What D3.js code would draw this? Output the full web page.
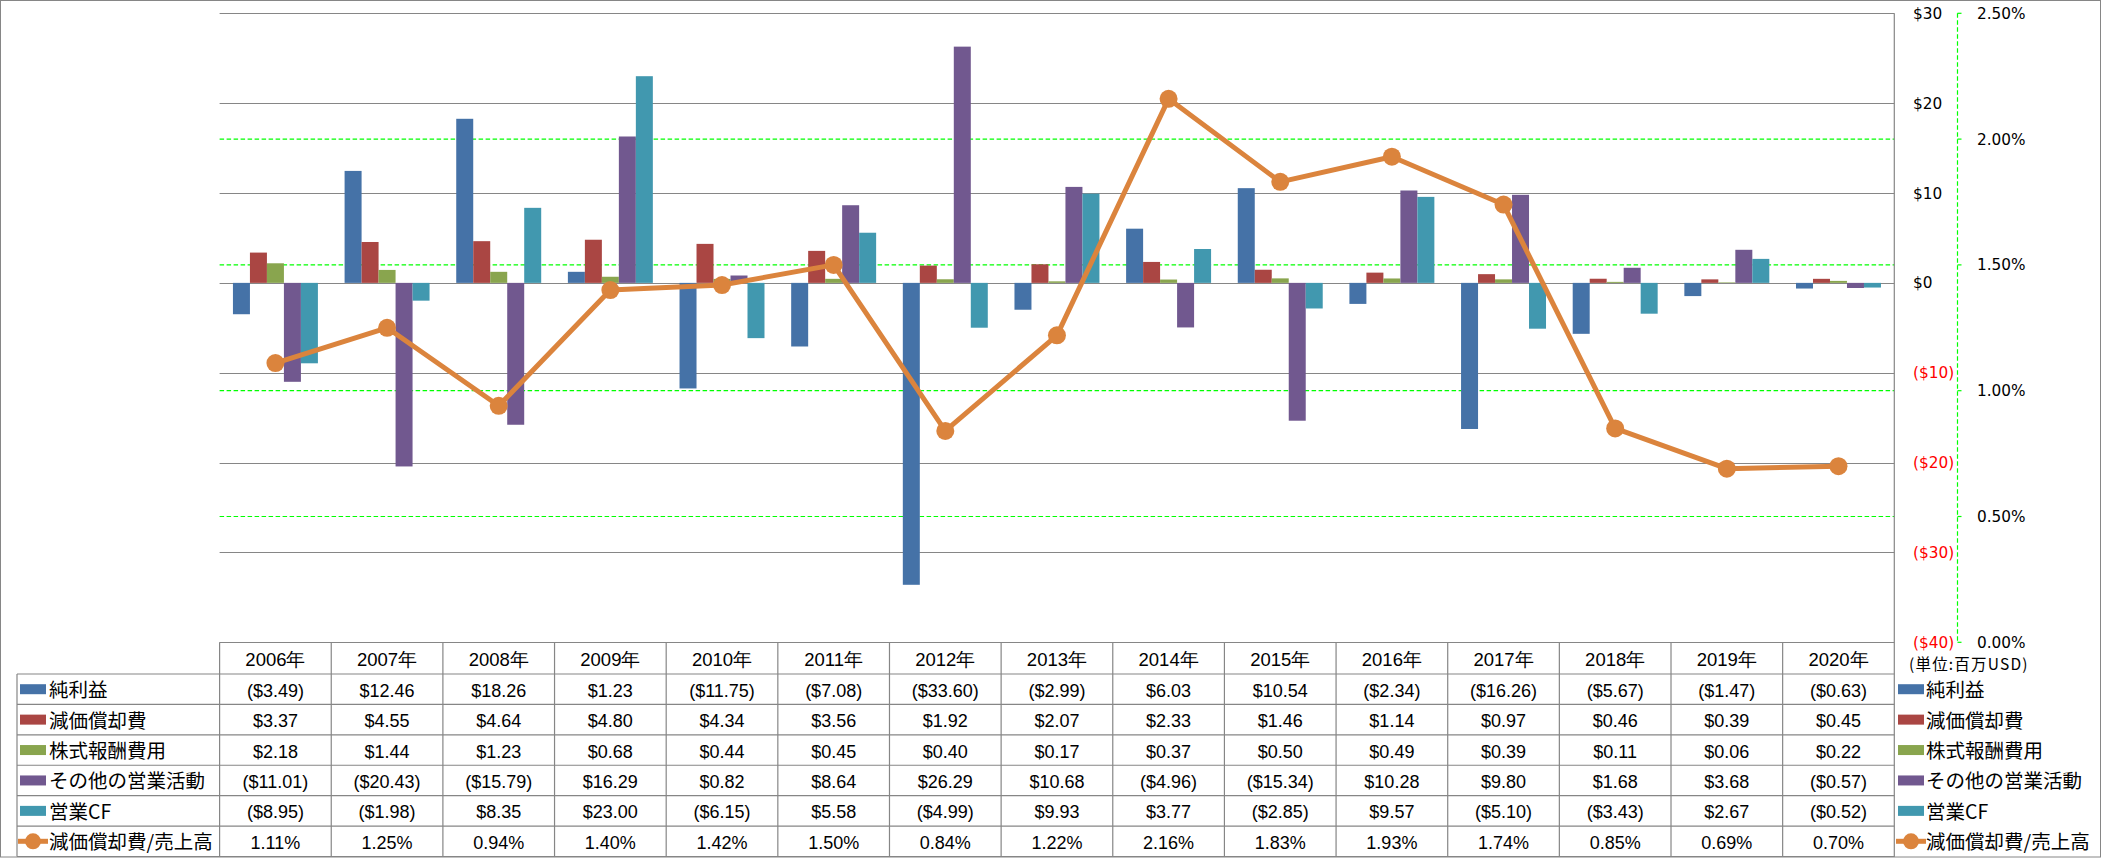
<!DOCTYPE html>
<html>
<head>
<meta charset="utf-8">
<script src="https://cdn.jsdelivr.net/npm/d3@7"></script>
<style>
  html, body { margin: 0; padding: 0; background: #fff; }
  svg { display: block; }
</style>
</head>
<body>
<svg id="chart" width="2101" height="858"></svg>
<script>
// ---------- data ----------
const years = ["2006年","2007年","2008年","2009年","2010年","2011年","2012年","2013年","2014年","2015年","2016年","2017年","2018年","2019年","2020年"];
const seriesNames = ["純利益","減価償却費","株式報酬費用","その他の営業活動","営業CF"];
const netIncome   = [-3.49, 12.46, 18.26, 1.23, -11.75, -7.08, -33.60, -2.99, 6.03, 10.54, -2.34, -16.26, -5.67, -1.47, -0.63];
const depreciation= [3.37, 4.55, 4.64, 4.80, 4.34, 3.56, 1.92, 2.07, 2.33, 1.46, 1.14, 0.97, 0.46, 0.39, 0.45];
const stockComp   = [2.18, 1.44, 1.23, 0.68, 0.44, 0.45, 0.40, 0.17, 0.37, 0.50, 0.49, 0.39, 0.11, 0.06, 0.22];
const otherOps    = [-11.01, -20.43, -15.79, 16.29, 0.82, 8.64, 26.29, 10.68, -4.96, -15.34, 10.28, 9.80, 1.68, 3.68, -0.57];
const operatingCF = [-8.95, -1.98, 8.35, 23.00, -6.15, 5.58, -4.99, 9.93, 3.77, -2.85, 9.57, -5.10, -3.43, 2.67, -0.52];
const lineName = "減価償却費/売上高";
const ratio       = [1.11, 1.25, 0.94, 1.40, 1.42, 1.50, 0.84, 1.22, 2.16, 1.83, 1.93, 1.74, 0.85, 0.69, 0.70];
const leftTicks  = [-40, -30, -20, -10, 0, 10, 20, 30];
const rightTicks = [0, 0.5, 1.0, 1.5, 2.0, 2.5];
const unitLabel = "(単位:百万USD)";

const barSeries = [netIncome, depreciation, stockComp, otherOps, operatingCF];
const colors = ["#4572A7", "#AA4643", "#89A54E", "#71588F", "#4198AF"];
const lineColor = "#DB843D";

// ---------- layout ----------
const svg = d3.select("#chart");
const W = 2101, H = 858;
const plotL = 219.6, plotR = 1894.3, plotT = 13.3, plotB = 642.3;
const gridColor = "#868686";
const numFont = "'Liberation Sans', Arial, sans-serif";
const jpFont = "'Noto Sans CJK JP', 'Liberation Sans', sans-serif";
const axisFont = "'DejaVu Sans', Verdana, sans-serif";

// outer border
svg.append("rect").attr("x", 0.5).attr("y", 0.5).attr("width", W - 1).attr("height", H - 1.5)
  .attr("fill", "none").attr("stroke", gridColor).attr("stroke-width", 1);

const y = d3.scaleLinear().domain([-40, 30]).range([plotB, plotT]);
const yP = d3.scaleLinear().domain([0, 2.5]).range([plotB, plotT]);
const col = d3.scaleBand().domain(years).range([plotL, plotR]).padding(0);
const x0 = d3.scaleBand().domain(years).range([plotL, plotR]).paddingInner(0.239).paddingOuter(0.1195);
const x1 = d3.scaleBand().domain(d3.range(seriesNames.length)).range([0, x0.bandwidth()]).padding(0);

// green dashed gridlines (right axis)
svg.append("g").selectAll("line").data(rightTicks.filter(t => t > 0 && t < 2.5)).join("line")
  .attr("x1", plotL).attr("x2", plotR)
  .attr("y1", d => yP(d)).attr("y2", d => yP(d))
  .attr("stroke", "#00FF00").attr("stroke-width", 1.2).attr("stroke-dasharray", "4.5,2.5");

// gray gridlines (left axis)
svg.append("g").selectAll("line").data(leftTicks).join("line")
  .attr("x1", plotL).attr("x2", plotR)
  .attr("y1", d => Math.round(y(d)) + 0.5).attr("y2", d => Math.round(y(d)) + 0.5)
  .attr("stroke", gridColor).attr("stroke-width", 1.2);

// plot right border
svg.append("line").attr("x1", plotR).attr("x2", plotR).attr("y1", plotT).attr("y2", H - 1)
  .attr("stroke", gridColor).attr("stroke-width", 1.2);

// bars
const gBars = svg.append("g");
years.forEach((yr, i) => {
  barSeries.forEach((s, k) => {
    const v = s[i];
    gBars.append("rect")
      .attr("x", x0(yr) + x1(k))
      .attr("width", x1.bandwidth())
      .attr("y", Math.min(y(v), y(0)))
      .attr("height", Math.abs(y(v) - y(0)))
      .attr("fill", colors[k]);
  });
});

// line series
const cx = d => col(d) + col.bandwidth() / 2;
const linePts = years.map((yr, i) => [cx(yr), yP(ratio[i])]);
svg.append("path").attr("d", d3.line()(linePts))
  .attr("fill", "none").attr("stroke", lineColor).attr("stroke-width", 5).attr("stroke-linejoin", "round");
svg.append("g").selectAll("circle").data(linePts).join("circle")
  .attr("cx", d => d[0]).attr("cy", d => d[1]).attr("r", 9).attr("fill", lineColor);

// right $ axis labels
const fmtDollarAxis = d => d < 0 ? `($${Math.abs(d)})` : `$${d}`;
svg.append("g").selectAll("text").data(leftTicks).join("text")
  .attr("x", 1913).attr("y", d => y(d)).attr("dy", "0.36em")
  .attr("font-family", axisFont).attr("font-size", 15.3)
  .attr("fill", d => d < 0 ? "#FF0000" : "#000")
  .text(fmtDollarAxis);

// right percent axis (green dashed)
const axX = 1957.5;
svg.append("line").attr("x1", axX).attr("x2", axX).attr("y1", plotT).attr("y2", plotB)
  .attr("stroke", "#00FF00").attr("stroke-width", 1.2).attr("stroke-dasharray", "4.5,2.5");
svg.append("g").selectAll("line").data(rightTicks).join("line")
  .attr("x1", axX).attr("x2", axX + 4).attr("y1", d => yP(d)).attr("y2", d => yP(d))
  .attr("stroke", "#00FF00").attr("stroke-width", 1.2);
svg.append("g").selectAll("text").data(rightTicks).join("text")
  .attr("x", 1977).attr("y", d => yP(d)).attr("dy", "0.36em")
  .attr("font-family", axisFont).attr("font-size", 15.3).attr("fill", "#000")
  .text(d => d.toFixed(2) + "%");

// unit label
svg.append("text").attr("x", 1909).attr("y", 664).attr("dy", "0.36em")
  .attr("font-family", jpFont).attr("font-size", 15.5).attr("letter-spacing", 1.2)
  .attr("fill", "#000").text(unitLabel);

// ---------- data table ----------
const rowLabels = seriesNames.concat([lineName]);
const rowsData = barSeries.concat([ratio]);
const headTop = plotB, headBot = 674;
const rows = d3.scaleBand().domain(d3.range(rowLabels.length)).range([headBot, 856.5]);
const tLeft = 17;
const tg = svg.append("g");

// header vertical lines
years.forEach(yr => {
  tg.append("line").attr("x1", col(yr)).attr("x2", col(yr)).attr("y1", headTop).attr("y2", 856.5)
    .attr("stroke", gridColor).attr("stroke-width", 1.2);
});
// horizontal row lines
rows.domain().forEach(r => {
  tg.append("line").attr("x1", tLeft).attr("x2", plotR).attr("y1", rows(r)).attr("y2", rows(r))
    .attr("stroke", gridColor).attr("stroke-width", 1.2);
});
tg.append("line").attr("x1", tLeft).attr("x2", plotR).attr("y1", 856.5).attr("y2", 856.5)
  .attr("stroke", gridColor).attr("stroke-width", 1.2);
tg.append("line").attr("x1", tLeft).attr("x2", tLeft).attr("y1", headBot).attr("y2", 856.5)
  .attr("stroke", gridColor).attr("stroke-width", 1.2);

// header text
tg.selectAll("text.hdr").data(years).join("text").attr("class", "hdr")
  .attr("x", d => cx(d)).attr("y", (headTop + headBot) / 2 + 1).attr("dy", "0.36em")
  .attr("text-anchor", "middle").attr("font-family", numFont).attr("font-size", 18.5)
  .attr("fill", "#000").text(d => d);

// values
const fmtDollar = d => d < 0 ? `($${Math.abs(d).toFixed(2)})` : `$${d.toFixed(2)}`;
const fmtPct = d => d.toFixed(2) + "%";
rowsData.forEach((arr, r) => {
  const fmt = r === rowsData.length - 1 ? fmtPct : fmtDollar;
  tg.append("g").selectAll("text").data(arr).join("text")
    .attr("x", (d, i) => cx(years[i])).attr("y", rows(r) + rows.bandwidth() / 2 + 1).attr("dy", "0.36em")
    .attr("text-anchor", "middle").attr("font-family", numFont).attr("font-size", 18)
    .attr("fill", "#000").text(fmt);
});

// legend keys (left in table and right)
function legendKey(xs, xText, r) {
  const cyR = rows(r) + rows.bandwidth() / 2;
  if (r < seriesNames.length) {
    tg.append("rect").attr("x", xs).attr("y", cyR - 5).attr("width", 26).attr("height", 10).attr("fill", colors[r]);
  } else {
    tg.append("line").attr("x1", xs - 2).attr("x2", xs + 28).attr("y1", cyR).attr("y2", cyR)
      .attr("stroke", lineColor).attr("stroke-width", 5);
    tg.append("circle").attr("cx", xs + 13).attr("cy", cyR).attr("r", 8).attr("fill", lineColor);
  }
  tg.append("text").attr("x", xText).attr("y", cyR + 1).attr("dy", "0.36em")
    .attr("font-family", jpFont).attr("font-size", 19.5).attr("fill", "#000").text(rowLabels[r]);
}
rows.domain().forEach(r => {
  legendKey(20, 49, r);
  legendKey(1898, 1926, r);
});
</script>
</body>
</html>
